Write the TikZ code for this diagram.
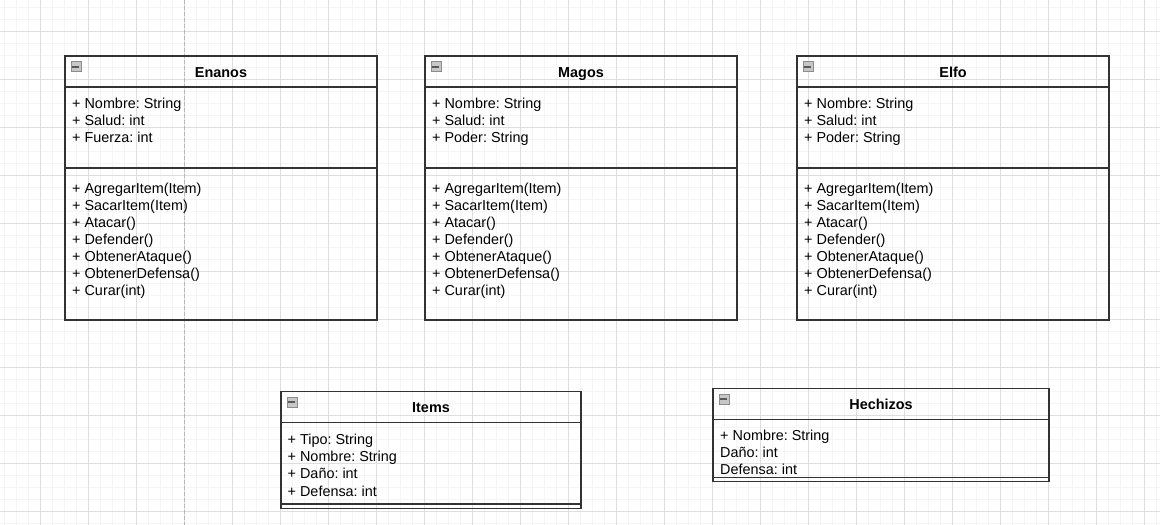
\documentclass[tikz,border=0pt]{standalone}
\usepackage{fontspec}
\setmainfont{Liberation Sans}
\usetikzlibrary{positioning}
\frenchspacing

\begin{document}
\begin{tikzpicture}[x=1pt,y=-1pt,
  minor/.style={black!4, line width=0.8pt},
  major/.style={black!13, line width=0.8pt},
  guide/.style={black!28, line width=1.5pt, dash pattern=on 4pt off 2pt},
  clsbox/.style={draw=black!80, line width=1.3pt, anchor=north west, inner sep=0pt, outer sep=0pt},
  head/.style={clsbox, minimum height=31pt, font=\bfseries\fontsize{14.4}{16}\selectfont, text height=11pt, text depth=0pt},
  member/.style={anchor=base west, inner sep=0pt, font=\fontsize{14.4}{16}\selectfont},
  icon/.style={draw=black!45, fill=black!22, minimum size=10pt, inner sep=0pt,
    path picture={\draw[black!65, line width=1.8pt] ([xshift=1.6pt]path picture bounding box.west) -- ([xshift=-1.6pt]path picture bounding box.east);}}]
\useasboundingbox (0,0) rectangle (1160,525);
\fill[white] (0,0) rectangle (1160,525);
% grid
\foreach \x in {4,16,...,1156} \draw[minor] (\x,0) -- (\x,525);
\foreach \y in {7.7,19.7,...,523.7} \draw[minor] (0,\y) -- (1160,\y);
\foreach \x in {40,88,...,1144} \draw[major] (\x,0) -- (\x,525);
\foreach \y in {31.7,79.7,...,511.7} \draw[major] (0,\y) -- (1160,\y);
\draw[guide] (184.5,0) -- (184.5,525);

% Enanos
\node[head, minimum width=312pt] (enanos) at (65,56) {Enanos};
\node[clsbox, minimum width=312pt, minimum height=81pt, below=0pt of enanos] (enanosAttr) {};
\node[clsbox, minimum width=312pt, minimum height=152pt, below=0pt of enanosAttr] (enanosOps) {};
\node[icon] (enanosI) at (75.8,66.6) {};
\foreach \t [count=\i] in {{+ Nombre: String},{+ Salud: int},{+ Fuerza: int}}
  \node[member] (enanosA\i) at (72,91+17*\i) {\t};
\foreach \t [count=\i] in {{+ AgregarItem(Item)},{+ SacarItem(Item)},{+ Atacar()},{+ Defender()},{+ ObtenerAtaque()},{+ ObtenerDefensa()},{+ Curar(int)}}
  \node[member] (enanosM\i) at (72,176+17*\i) {\t};

% Magos
\node[head, minimum width=312pt] (magos) at (425,56) {Magos};
\node[clsbox, minimum width=312pt, minimum height=81pt, below=0pt of magos] (magosAttr) {};
\node[clsbox, minimum width=312pt, minimum height=152pt, below=0pt of magosAttr] (magosOps) {};
\node[icon] (magosI) at (435.8,66.6) {};
\foreach \t [count=\i] in {{+ Nombre: String},{+ Salud: int},{+ Poder: String}}
  \node[member] (magosA\i) at (432,91+17*\i) {\t};
\foreach \t [count=\i] in {{+ AgregarItem(Item)},{+ SacarItem(Item)},{+ Atacar()},{+ Defender()},{+ ObtenerAtaque()},{+ ObtenerDefensa()},{+ Curar(int)}}
  \node[member] (magosM\i) at (432,176+17*\i) {\t};

% Elfo
\node[head, minimum width=312pt] (elfo) at (797,56) {Elfo};
\node[clsbox, minimum width=312pt, minimum height=81pt, below=0pt of elfo] (elfoAttr) {};
\node[clsbox, minimum width=312pt, minimum height=152pt, below=0pt of elfoAttr] (elfoOps) {};
\node[icon] (elfoI) at (807.8,66.6) {};
\foreach \t [count=\i] in {{+ Nombre: String},{+ Salud: int},{+ Poder: String}}
  \node[member] (elfoA\i) at (804,91+17*\i) {\t};
\foreach \t [count=\i] in {{+ AgregarItem(Item)},{+ SacarItem(Item)},{+ Atacar()},{+ Defender()},{+ ObtenerAtaque()},{+ ObtenerDefensa()},{+ Curar(int)}}
  \node[member] (elfoM\i) at (804,176+17*\i) {\t};

% Items
\node[head, minimum width=300pt] (items) at (281,391.5) {Items};
\node[clsbox, minimum width=300pt, minimum height=81.5pt, below=0pt of items] (itemsAttr) {};
\node[clsbox, minimum width=300pt, minimum height=4.5pt, below=0pt of itemsAttr] (itemsOps) {};
\node[icon] (itemsI) at (291.8,402) {};
\node[member] (itemsA1) at (287.5,444) {+ Tipo: String};
\node[member] (itemsA2) at (287.5,461) {+ Nombre: String};
\node[member] (itemsA3) at (287.5,478) {+ Daño: int};
\node[member] (itemsA4) at (287.5,496) {+ Defensa: int};

% Hechizos
\node[head, minimum width=336pt] (hechizos) at (713,388.3) {Hechizos};
\node[clsbox, minimum width=336pt, minimum height=58pt, below=0pt of hechizos] (hechizosAttr) {};
\node[clsbox, minimum width=336pt, minimum height=4.5pt, below=0pt of hechizosAttr] (hechizosOps) {};
\node[icon] (hechizosI) at (723.8,398.8) {};
\node[member] (hechizosA1) at (720,440) {+ Nombre: String};
\node[member] (hechizosA2) at (720,457) {Daño: int};
\node[member] (hechizosA3) at (720,474) {Defensa: int};
\end{tikzpicture}
\end{document}
